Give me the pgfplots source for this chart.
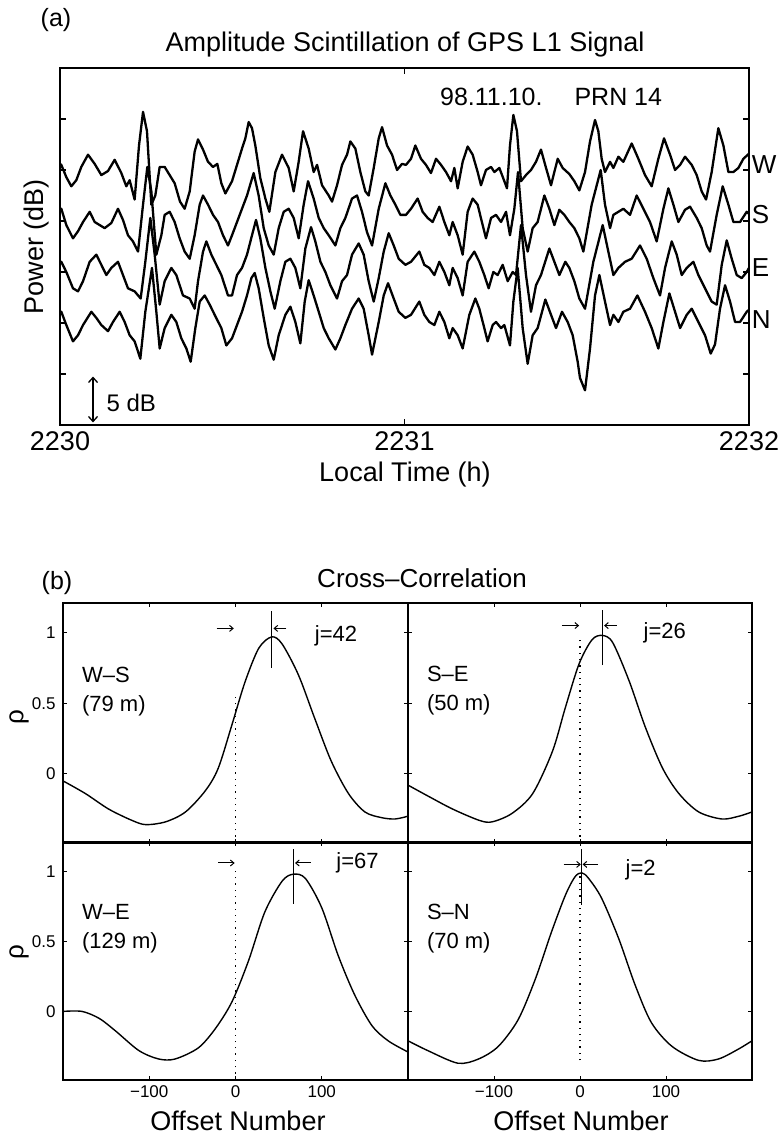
\documentclass[border=0pt]{standalone}
\usepackage{fontspec}
\setmainfont{Liberation Sans}
\usepackage{pgfplots}
\pgfplotsset{compat=1.18}
\usetikzlibrary{arrows.meta}
\newcommand\fsz[2]{\fontsize{#1bp}{#2bp}\selectfont}
\tikzset{
  arr/.style={-{Straight Barb[length=3.5bp,width=6bp]}, line width=1bp},
  zdot/.style={line width=1.3bp, dash pattern=on 1.3bp off 5bp},
}
\pgfplotsset{
  cc/.style={scale only axis, anchor=south west, xmin=-200, xmax=200, ymin=-0.49, ymax=1.21,
    xtick={-100,0,100}, ytick={0,0.5,1},
    major tick length=4bp, tick style={black, line width=1bp},
    axis line style={line width=1.6bp},
    tick label style={font=\fsz{17}{20}},
    xticklabel style={yshift=-2bp}, yticklabel style={xshift=-4bp},
    clip=false},
  ccline/.style={black, line width=1.4bp, smooth, no marks},
  trace/.style={black, line width=2.3bp, no marks, line join=round},
}
\begin{document}
\begin{tikzpicture}
\useasboundingbox (0,0) rectangle (783bp,1135bp);
% ---------------- panel (a) ----------------
\begin{axis}[at={(60bp,710bp)}, anchor=south west, scale only axis,
  width=689bp, height=357bp,
  xmin=0, xmax=120, ymin=0, ymax=35,
  xtick={0,60,120}, xticklabels={2230,2231,2232},
  ytick={5,10,15,20,25,30}, yticklabels={},
  major tick length=6bp, tick style={black, line width=1.1bp},
  axis line style={line width=1.7bp},
  tick label style={font=\fsz{27}{30}},
  xticklabel style={yshift=-3bp},
  clip=false]
\addplot[trace] table {
0 25.6
0.23 25.5
1.10 24.3
1.97 23.4
2.84 24.0
3.71 25.3
4.88 26.5
6.04 25.6
7.20 24.5
8.36 24.9
9.52 26.0
10.68 24.7
11.55 23.4
12.13 24.0
13.00 22.1
13.76 27.4
14.46 30.7
15.15 28.8
15.91 21.6
16.60 22.5
17.36 25.3
18.23 25.3
19.10 24.5
19.97 23.7
20.90 21.9
21.71 21.2
22.59 22.9
23.45 26.8
24.04 28.0
24.91 27.0
25.78 25.8
26.65 25.3
27.40 25.6
28.10 23.7
28.80 22.7
29.96 23.9
30.83 25.5
31.70 27.1
32.28 28.1
32.86 29.7
33.44 29.1
34.02 27.4
34.89 24.2
35.77 22.2
36.46 20.9
37.51 24.8
38.67 26.5
39.83 25.2
40.70 22.9
41.57 25.8
42.33 28.8
43.31 27.1
44.18 24.8
44.77 25.5
45.64 23.5
46.80 22.5
47.38 21.9
48.25 23.5
49.12 25.5
49.99 26.5
50.57 27.8
51.44 27.1
52.31 24.8
53.18 22.9
53.76 22.5
54.64 25.2
55.51 28.1
56.09 29.2
56.96 27.4
57.83 26.5
58.70 25.0
59.57 25.6
60.26 25.5
61.13 26.1
61.89 27.4
62.87 26.1
63.74 25.5
64.61 24.7
65.49 26.1
66.36 25.5
67.23 24.8
68.10 23.9
68.68 25.2
69.26 23.2
70.13 25.8
71.00 27.3
71.87 26.5
72.74 24.8
73.32 23.5
74.19 25.0
75.07 25.3
75.65 24.8
76.52 25.2
77.39 23.9
77.85 23.2
78.37 27.4
78.96 30.4
79.59 28.8
80.29 23.9
81.16 24.5
82.03 25.0
82.90 25.8
83.77 27.0
84.65 25.2
85.52 23.5
86.68 26.1
87.55 25.2
88.71 24.6
89.58 23.9
90.45 23.0
91.44 24.8
92.31 27.8
93.18 29.9
93.76 28.8
94.34 26.1
94.92 24.8
95.80 25.8
96.38 25.2
97.25 26.3
98.12 25.8
99.57 27.6
100.73 26.1
101.89 24.5
103.05 23.4
104.21 26.1
105.20 28.1
106.25 26.5
107.12 25.0
108.00 25.5
108.86 26.3
110.02 25.5
110.89 24.5
111.76 22.9
112.52 22.1
113.50 24.8
114.66 29.1
115.54 27.4
116.41 24.8
117.28 24.8
118.15 25.2
119.02 26.1
120.00 26.6
};
\addplot[trace] table {
0 21.0
0.23 21.2
1.10 19.6
2.26 18.3
3.14 19.0
4.01 19.9
5.17 20.9
6.04 19.9
6.91 19.6
7.78 19.3
8.94 19.8
10.10 21.2
10.97 20.1
11.84 18.6
12.71 18.0
13.59 17.0
14.46 21.6
15.21 25.3
15.91 22.9
16.78 16.7
17.65 18.6
18.23 20.6
19.10 20.9
19.97 19.9
20.84 18.3
21.71 17.0
22.59 16.3
23.45 18.6
24.33 21.6
24.91 22.5
25.78 21.6
26.65 20.6
27.52 19.9
28.39 18.6
29.26 17.6
29.96 18.6
30.83 19.9
31.70 21.2
32.57 22.5
33.73 24.7
34.60 22.5
35.48 19.3
36.35 17.6
37.22 16.7
38.09 19.3
38.96 20.9
39.83 21.2
40.70 20.3
41.57 18.3
42.44 21.6
43.20 23.9
44.18 22.2
45.06 20.3
45.93 19.3
46.80 18.6
47.96 17.6
48.83 19.3
49.70 20.3
50.86 22.2
51.73 22.5
52.60 20.9
53.47 18.9
54.35 17.6
55.51 21.2
56.67 23.7
57.54 22.5
58.41 21.6
59.28 20.6
60.26 20.6
61.13 21.2
62.29 22.2
63.16 20.9
64.03 20.3
64.90 19.9
66.07 21.4
66.94 19.9
67.81 18.6
68.39 19.9
69.26 18.6
70.13 16.7
71.00 20.9
71.87 22.2
72.74 21.6
73.61 19.6
74.19 18.3
75.07 20.3
75.94 20.6
76.81 19.9
77.68 20.9
78.37 18.6
79.13 21.2
79.77 24.8
80.58 19.3
81.45 17.0
82.32 19.3
83.19 19.9
84.36 22.5
85.23 21.2
86.10 19.6
86.97 21.1
87.84 20.6
88.71 19.9
89.58 19.3
90.45 18.3
91.15 17.0
92.60 21.6
94.17 25.0
94.92 21.6
95.80 19.3
96.38 20.6
97.25 20.9
98.12 21.2
99.28 20.6
100.44 22.5
101.60 21.2
102.76 19.9
103.92 18.0
105.09 21.2
105.96 23.2
106.83 21.6
107.70 19.9
108.86 21.1
109.73 21.4
110.89 20.3
111.76 19.3
112.63 17.6
113.21 17.0
114.37 20.6
115.42 23.4
116.41 21.6
117.28 19.9
118.44 19.9
119.60 20.9
120.00 20.7
};
\addplot[trace] table {
0 16.0
0.23 16.0
1.10 15.0
2.26 13.4
3.14 13.1
4.01 14.1
5.17 16.0
6.33 16.7
7.20 15.7
8.07 14.7
8.94 15.4
10.10 16.0
10.97 14.7
11.84 13.4
13.00 13.1
14.05 12.4
14.86 16.0
15.73 20.3
16.49 16.7
17.36 11.8
18.23 14.1
19.39 15.4
20.26 14.7
21.42 12.7
22.59 12.4
23.45 11.4
24.04 14.1
24.91 17.0
25.49 18.0
26.36 16.7
27.23 15.7
28.10 14.7
29.26 12.7
29.96 12.7
30.83 14.7
31.70 15.4
32.57 16.7
33.44 18.6
34.14 20.1
34.89 18.3
35.77 15.4
36.64 13.1
37.39 11.4
38.38 14.1
39.25 16.0
40.12 16.3
40.99 15.4
41.86 13.4
42.73 17.3
43.72 19.4
44.47 18.0
45.35 16.0
46.22 15.0
47.09 13.7
48.25 12.4
49.12 14.1
49.99 14.7
50.86 16.7
52.02 17.8
52.89 16.7
53.76 14.1
54.64 12.1
55.51 14.4
56.38 17.0
57.25 18.8
58.12 17.6
58.99 16.3
60.15 15.7
61.13 16.0
62.58 17.0
63.45 15.7
64.32 15.4
65.20 14.7
66.07 16.0
66.94 15.0
67.81 13.7
68.39 15.4
69.26 14.4
70.13 12.7
71.00 16.0
72.16 17.0
73.03 16.0
73.90 14.7
74.66 13.4
75.47 15.0
76.23 14.7
77.10 15.7
77.97 14.1
78.84 15.0
79.42 14.7
80.29 19.6
81.16 14.7
82.03 11.1
82.90 13.7
83.77 14.7
85.23 17.3
86.10 16.0
86.97 14.7
88.01 16.0
88.71 15.4
89.58 14.1
90.45 12.4
91.44 11.4
92.89 16.0
94.52 19.6
95.50 17.0
96.38 14.7
97.25 15.4
98.41 16.0
99.57 16.3
101.02 17.6
102.18 16.3
103.34 14.4
104.50 12.7
105.38 15.4
106.54 18.0
107.41 16.7
108.28 14.7
109.15 15.4
110.31 16.0
111.18 14.7
112.34 13.4
113.50 12.1
114.37 11.8
115.25 15.7
116.12 18.1
116.99 16.3
117.86 14.7
118.73 14.4
119.60 15.0
120.00 15.4
};
\addplot[trace] table {
0 11.0
0.23 11.1
1.10 9.8
2.26 8.2
3.14 8.8
4.01 9.8
5.46 11.1
6.33 10.5
7.20 9.8
8.36 9.2
9.23 10.1
10.39 11.1
11.26 10.1
12.13 8.8
13.00 8.2
13.99 6.5
14.86 11.1
16.02 15.4
16.78 11.1
17.36 7.5
18.23 9.5
19.39 10.8
20.26 10.1
21.13 8.5
22.01 7.5
22.76 6.2
23.57 9.5
24.33 12.1
25.20 12.7
26.07 11.8
26.94 10.8
28.10 9.5
28.97 7.8
29.96 8.5
30.83 9.8
31.70 11.1
32.57 12.7
33.33 14.4
33.91 14.9
34.60 13.4
35.48 10.5
36.35 7.8
37.22 6.4
38.09 8.8
39.25 10.8
40.12 11.6
40.99 10.1
41.86 8.0
42.62 12.1
43.31 14.2
44.18 12.7
45.06 11.1
45.93 9.5
46.80 8.5
47.96 7.4
48.83 8.5
49.70 9.8
50.86 11.4
52.02 12.4
52.89 11.4
53.76 8.8
54.35 6.9
55.51 10.1
56.38 12.7
57.13 13.9
58.12 12.4
58.99 11.1
60.15 10.5
61.13 10.8
62.58 12.1
63.45 10.8
64.32 10.1
65.20 9.8
66.07 11.1
66.94 10.1
67.81 8.5
68.39 9.5
69.26 8.8
70.13 7.5
71.29 10.8
72.34 12.4
73.03 11.4
73.90 9.5
74.48 8.2
75.36 9.8
75.94 10.1
76.81 9.5
77.39 9.8
78.37 7.8
78.96 12.1
79.71 15.4
80.58 9.5
81.45 6.0
82.32 8.8
83.19 9.5
84.53 12.3
85.52 10.8
86.39 9.5
87.43 11.1
88.42 10.1
89.29 8.8
90.16 6.2
90.57 4.6
91.44 3.4
92.31 7.5
93.18 12.7
93.94 14.7
94.92 12.1
95.80 9.8
96.38 10.8
97.25 10.1
98.12 11.1
99.28 11.4
100.56 12.7
101.89 11.1
103.05 9.5
104.21 7.5
105.09 10.1
106.13 12.9
107.12 11.1
108.00 9.5
109.15 10.8
110.02 11.4
111.18 10.1
112.34 8.8
113.33 7.0
114.08 7.9
114.95 11.4
115.83 13.7
116.70 12.1
117.57 10.1
118.44 10.1
119.60 11.1
120.00 11.3
};
\node[anchor=west, font=\fsz{25}{28}] at (axis cs:65.6,32.2) {98.11.10.};
\node[anchor=west, font=\fsz{25}{28}] at (axis cs:89.0,32.2) {PRN 14};
\node[anchor=west, font=\fsz{26}{28}, inner sep=1bp] at (axis cs:120.3,25.5) {W};
\node[anchor=west, font=\fsz{26}{28}, inner sep=1bp] at (axis cs:120.3,20.6) {S};
\node[anchor=west, font=\fsz{26}{28}, inner sep=1bp] at (axis cs:120.3,15.4) {E};
\node[anchor=west, font=\fsz{26}{28}, inner sep=1bp] at (axis cs:120.3,10.3) {N};
\draw[{Straight Barb[length=5bp,width=9bp]}-{Straight Barb[length=5bp,width=9bp]}, line width=1.3bp] (axis cs:5.75,0.25) -- (axis cs:5.75,4.75);
\node[anchor=west, font=\fsz{24}{28}] at (axis cs:7.5,2.2) {5 dB};
\end{axis}
% ---------------- panel (b) ----------------
% W-S
\begin{axis}[cc, at={(63bp,292bp)}, width=345bp, height=240bp, xticklabels={}, yticklabels={0,0.5,1}]
\addplot[ccline] coordinates {(-200,-0.05) (-174,-0.14) (-147,-0.25) (-120,-0.33) (-104,-0.36) (-81,-0.34) (-58,-0.27) (-35,-0.12) (-20,0.04) (-4,0.35) (11,0.65) (27,0.89) (42,0.97) (54,0.92) (73,0.70) (92,0.39) (111,0.09) (131,-0.14) (150,-0.27) (169,-0.31) (185,-0.32) (200,-0.30)};
\draw[zdot] (axis cs:0,-0.49) -- (axis cs:0,0.55);
\draw[line width=1.4bp] (axis cs:42,0.75) -- (axis cs:42,1.15);
\draw[arr] (axis cs:-22,1.03) -- (axis cs:-2,1.03);
\draw[arr] (axis cs:59,1.03) -- (axis cs:44,1.03);
\node[anchor=west, font=\fsz{22}{29}] at (axis cs:88,0.98) {j=42};
\node[anchor=west, align=left, font=\fsz{22}{29}] at (axis cs:-182,0.58) {W–S\\(79 m)};
\end{axis}
% S-E
\begin{axis}[cc, at={(408bp,292bp)}, width=344bp, height=240bp, xticklabels={}, yticklabels={}]
\addplot[ccline] coordinates {(-200,-0.08) (-176,-0.16) (-148,-0.25) (-117,-0.33) (-102,-0.34) (-79,-0.28) (-55,-0.14) (-32,0.16) (-17,0.47) (-1,0.78) (14,0.95) (26,0.98) (38,0.93) (57,0.66) (76,0.33) (96,0.04) (115,-0.14) (138,-0.27) (165,-0.32) (185,-0.30) (200,-0.27)};
\draw[zdot] (axis cs:0,-0.49) -- (axis cs:0,0.95);
\draw[line width=1.4bp] (axis cs:26,0.77) -- (axis cs:26,1.16);
\draw[arr] (axis cs:-21,1.05) -- (axis cs:-1,1.05);
\draw[arr] (axis cs:43,1.05) -- (axis cs:28,1.05);
\node[anchor=west, font=\fsz{22}{29}] at (axis cs:70,1.0) {j=26};
\node[anchor=west, align=left, font=\fsz{22}{29}] at (axis cs:-182,0.59) {S–E\\(50 m)};
\end{axis}
% W-E
\begin{axis}[cc, at={(63bp,55bp)}, width=345bp, height=238bp, xticklabels={−100,0,100}, yticklabels={0,0.5,1}]
\addplot[ccline] coordinates {(-200,0.0) (-178,0.0) (-158,-0.05) (-139,-0.14) (-112,-0.28) (-89,-0.34) (-70,-0.34) (-43,-0.26) (-23,-0.12) (-4,0.07) (15,0.36) (34,0.71) (54,0.93) (67,0.98) (81,0.95) (100,0.74) (119,0.40) (138,0.12) (158,-0.10) (177,-0.21) (200,-0.29)};
\draw[zdot] (axis cs:0,-0.49) -- (axis cs:0,1.0);
\draw[line width=1.4bp] (axis cs:67,0.77) -- (axis cs:67,1.16);
\draw[arr] (axis cs:-20,1.06) -- (axis cs:-1,1.06);
\draw[arr] (axis cs:87,1.06) -- (axis cs:69,1.06);
\node[anchor=west, font=\fsz{22}{29}] at (axis cs:113,1.06) {j=67};
\node[anchor=west, align=left, font=\fsz{22}{29}] at (axis cs:-182,0.59) {W–E\\(129 m)};
\end{axis}
% S-N
\begin{axis}[cc, at={(408bp,55bp)}, width=344bp, height=238bp, xticklabels={−100,0,100}, yticklabels={}]
\addplot[ccline] coordinates {(-200,-0.21) (-177,-0.28) (-142,-0.37) (-118,-0.34) (-95,-0.25) (-72,-0.06) (-52,0.23) (-33,0.57) (-17,0.83) (-6,0.96) (2,0.99) (10,0.95) (25,0.81) (45,0.52) (64,0.19) (83,-0.08) (107,-0.25) (138,-0.35) (161,-0.34) (184,-0.27) (200,-0.21)};
\draw[zdot] (axis cs:0,-0.35) -- (axis cs:0,1.0);
\draw[line width=1.4bp] (axis cs:2,0.76) -- (axis cs:2,1.16);
\draw[arr] (axis cs:-19,1.05) -- (axis cs:1,1.05);
\draw[arr] (axis cs:21,1.05) -- (axis cs:3,1.05);
\node[anchor=west, font=\fsz{22}{29}] at (axis cs:49,1.01) {j=2};
\node[anchor=west, align=left, font=\fsz{22}{29}] at (axis cs:-182,0.59) {S–N\\(70 m)};
\end{axis}
% ---------------- free text ----------------
\node[font=\fsz{25}{28}] at (56bp,1115bp) {(a)};
\node[font=\fsz{27}{30}, anchor=base] at (405bp,1083bp) {Amplitude Scintillation of GPS L1 Signal};
\node[font=\fsz{27}{30}, rotate=90] at (37bp,888bp) {Power (dB)};
\node[font=\fsz{27}{30}, anchor=base] at (405bp,653bp) {Local Time (h)};
\node[font=\fsz{25}{28}] at (57bp,552bp) {(b)};
\node[font=\fsz{26}{30}, anchor=base] at (422bp,547bp) {Cross–Correlation};
\node[font=\fsz{26}{30}, rotate=90] at (19bp,418bp) {ρ};
\node[font=\fsz{26}{30}, rotate=90] at (19bp,183bp) {ρ};
\node[font=\fsz{27}{30}, anchor=base] at (238bp,5bp) {Offset Number};
\node[font=\fsz{27}{30}, anchor=base] at (581bp,5bp) {Offset Number};
\end{tikzpicture}
\end{document}
